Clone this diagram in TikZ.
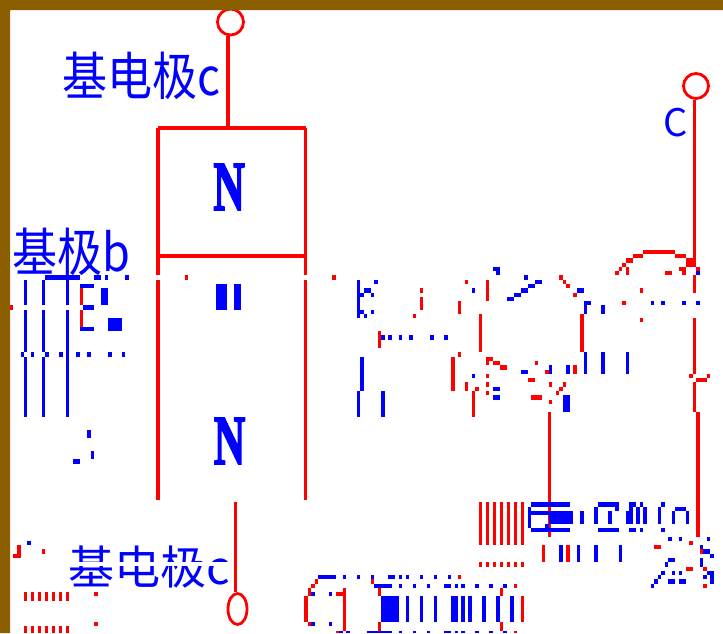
\documentclass[tikz,border=0pt]{standalone}
\usepackage{fontspec}
\usetikzlibrary{shapes.geometric}
\newfontfamily\cjk{Noto Sans CJK SC}
\newfontfamily\boldserif{Liberation Serif Bold}[FakeBold=3]
\definecolor{frame}{HTML}{8B5E00}
\definecolor{pxblue}{HTML}{0000FF}
\definecolor{pxred}{HTML}{FF0000}
\tikzset{
  bluepx/.style={fill=pxblue},
  redpx/.style={fill=pxred},
  wire/.style={draw=pxred,line width=3.2pt},
  terminal/.style={circle,draw=pxred,line width=2.8pt,inner sep=0pt,fill=none},
  lbl/.style={text=pxblue,inner sep=0pt,anchor=base west,font=\cjk\fontsize{45}{45}\selectfont},
  bigN/.style={text=pxblue,inner sep=0pt,font=\boldserif\fontsize{70}{70}\selectfont,xscale=0.62},
}
\newcommand\blu[1]{\foreach \a/\b/\c/\d in {#1}{\fill[bluepx] (\a,\b) rectangle (\c,\d);}}
\newcommand\rdd[1]{\foreach \a/\b/\c/\d in {#1}{\fill[redpx] (\a,\b) rectangle (\c,\d);}}
\begin{document}
\begin{tikzpicture}[x=1pt,y=-1pt]
\useasboundingbox (0,0) rectangle (723,633);
% labels
\node[lbl,yscale=1.15] (lc) at (62,95) {基电极c};
\node[lbl,yscale=1.15] (lb) at (12,271) {基极b};
\node[lbl,font=\cjk\fontsize{38}{38}\selectfont] (lC) at (663,136) {C};
\begin{scope}
\clip (60,545) rectangle (232,587);
\node[lbl,font=\cjk\fontsize{46}{46}\selectfont] (le) at (68,584) {基电极c};
\fill[white] (60,562) rectangle (232,566);
\end{scope}
% big letters
\node[bigN] (n1) at (229,187) {N};
\node[bigN] (n2) at (229.5,441) {N};
% terminals
\node[terminal,minimum size=26pt] (t1) at (230.5,22) {};
\node[terminal,minimum size=25pt] (t2) at (696,86) {};
\node[terminal,ellipse,minimum width=19pt,minimum height=31pt] (t3) at (237.5,609) {};
% named joints
\coordinate (boxT) at (228,128);
\coordinate (jog) at (228,37.5);
\coordinate (tl) at (158,128);
\coordinate (tr) at (305.5,128);
\coordinate (ml) at (158,256);
\coordinate (mr) at (305.5,256);
\coordinate (ll1) at (158,275);
\coordinate (ll2) at (158,280);
\coordinate (ll3) at (158,500);
\coordinate (rl1) at (305.5,275);
\coordinate (rl2) at (305.5,280);
\coordinate (rl3) at (305.5,500);
\coordinate (e1) at (235.5,502);
\coordinate (c1) at (694.5,258);
\coordinate (c2) at (694.5,275);
\coordinate (c3) at (694.5,293);
\coordinate (c4) at (694.5,318);
\coordinate (c5) at (694.5,374);
\coordinate (c6) at (694.5,382);
\coordinate (c7) at (694.5,412);
\coordinate (c8) at (698,412);
\coordinate (c9) at (698,537);
\coordinate (b1) at (549.5,412);
\coordinate (b2) at (549.5,537);
% connectors
\draw[wire] (t1.south -| jog) -- (boxT);
\draw[wire] (tl) -- (tr);
\draw[wire] (tl) -- (ll1) (ll2) -- (ll3);
\draw[wire] (tr) -- (rl1) (rl2) -- (rl3);
\draw[wire] (ml) -- (mr);
\draw[wire] (e1) -- (t3.north -| e1);
\draw[wire,line width=3pt] (t2.south -| c1) -- (c1) (c2) -- (c3) (c4) -- (c5) (c6) -- (c7);
\draw[wire,line width=4pt] (c8) -- (c9);
\draw[wire,line width=3pt] (b1) -- (b2);
\fill[frame] (0,0) rectangle (723,10) (0,0) rectangle (10,633);
% fragments, zoom (0,220)
\begin{scope}[shift={(0,220)},x=0.33333pt,y=-0.33333pt]
\blu{72/180/81/255,126/180/135/255,198/180/207/255,72/270/81/396,126/270/135/396,198/270/207/590,72/411/81/590,126/411/135/590,63/396/72/411,93/396/102/411,135/396/147/411,177/396/189/411,228/396/240/411,261/396/273/411,324/396/336/411,366/396/375/411,240/192/282/204,249/255/282/270,240/321/282/333,303/204/324/255,324/294/366/333,261/630/273/654,273/693/282/717,219/717/240/732,648/192/681/270,702/192/723/270,135/165/240/180,282/165/303/180,315/165/324/180,375/165/387/180}
\rdd{240/204/249/255,240/270/249/321,30/255/39/270,555/165/564/180}
\end{scope}
% fragments, zoom (330,240)
\begin{scope}[shift={(330,240)},x=0.33333pt,y=-0.33333pt]
\blu{81/120/90/234,132/120/144/132,102/144/123/159,90/159/102/171,123/159/132/171,90/210/102/222,123/210/132/222,102/222/111/234,153/285/165/300,174/285/186/300,207/285/216/300,237/285/249/300,300/285/312/300,342/285/354/300,426/144/435/159,489/81/510/93,498/93/510/105,582/105/594/120,615/120/636/132,594/132/615/144,573/144/594/159,552/159/573/171,531/171/552/183,741/144/762/159,762/183/783/195,762/195/771/222,813/195/825/222,963/183/972/195,993/183/1005/195,1056/183/1068/195,1098/183/1110/195,1098/93/1110/105,90/351/102/453,81/453/90/531,153/453/165/531,426/402/435/414,489/441/510/453,489/465/510/480,573/390/594/402,657/375/666/402,708/375/720/402,762/336/771/402,813/336/825/402,888/336/897/402,699/465/720/516}
\rdd{6/105/18/120,144/273/153/324,270/144/279/159,270/171/279/210,249/222/258/234,405/120/414/132,384/183/393/222,468/120/477/183,447/222/456/336,687/105/699/120,699/120/708/132,708/132/720/144,729/159/741/171,750/222/762/336,930/144/939/159,876/183/888/195,930/234/939/246,855/93/867/105,867/81/876/93,876/69/888/81,888/54/909/69,909/42/939/54,939/30/1035/42,1035/42/1068/54,1068/54/1098/81,888/81/897/105,1005/93/1026/105,1047/81/1068/93,1056/93/1068/105,1098/81/1110/93,1077/402/1089/414,1098/414/1131/426,1131/402/1140/414,384/336/393/351,363/351/375/453,405/426/414/453,426/453/435/531,435/441/447/453,468/351/489/363,468/363/477/375,489/363/510/375,510/375/531/390,468/402/477/414,468/426/477/441,468/453/477/465,615/363/624/375,645/390/657/402,729/375/741/402,594/414/615/426,657/426/666/441,699/426/708/441,687/441/699/453,678/453/687/465,603/465/636/480,657/480/666/492}
\end{scope}
% fragments, zoom (460,490)
\begin{scope}[shift={(460,490)},x=0.33333pt,y=-0.33333pt]
\rdd{57/36/66/165,78/36/87/165,99/36/108/165,120/36/129/165,141/36/150/165,162/36/171/165,183/36/192/165,57/216/66/231,78/216/87/231,99/216/108/231,120/216/129/231,141/216/150/231,162/216/171/231,183/216/192/231,246/165/255/216,318/165/330/216,687/153/699/165,582/165/603/177,720/177/729/192,678/231/699/243,729/231/741/243,729/282/741/294}
\blu{213/36/330/51,204/51/213/114,213/63/267/75,267/63/339/102,255/102/267/114,213/114/330/126,360/63/372/102,402/51/414/102,414/36/477/51,465/51/477/63,444/63/456/102,414/114/477/126,507/36/528/51,540/36/549/51,507/51/519/102,498/63/507/102,528/51/540/102,549/51/561/102,507/114/528/126,540/114/549/126,603/36/615/51,594/51/603/102,603/114/615/126,636/63/645/102,645/51/678/63,678/63/687/102,297/165/309/216,351/165/360/216,402/165/414/216,477/165/486/216,624/141/636/153,657/141/666/153,741/141/750/153,720/165/729/177,729/177/750/192,750/192/762/204,720/204/729/231,624/204/645/216,615/216/624/231,741/243/762/255,750/255/762/282,729/255/741/267,603/243/615/255,636/243/645/255,657/243/666/255,594/255/603/267,582/267/594/282,573/282/582/294,624/267/645/282,657/267/678/282}
\end{scope}
% fragments, zoom (290,560)
\begin{scope}[shift={(290,560)},x=0.33333pt,y=-0.33333pt]
\blu{84/45/138/57,159/45/168/57,201/45/210/57,243/45/252/57,294/45/315/57,327/45/336/57,348/45/357/57,390/45/399/57,432/45/441/57,474/45/483/57,252/72/306/84,327/72/336/84,369/72/378/84,411/72/420/84,462/72/483/84,495/72/504/84,513/72/525/84,555/72/567/84,597/72/609/84,639/72/651/84,63/96/75/108,117/96/126/108,273/108/327/186,348/108/357/186,390/108/399/186,432/108/441/186,483/108/504/186,513/108/525/186,534/108/546/186,576/108/588/186,618/108/630/186,660/108/672/186,63/186/75/198,117/186/126/198,147/213/159/219,168/213/180/219,231/213/306/219,327/213/336/219,369/213/378/219,411/213/420/219,462/213/483/219,495/213/504/219,513/213/525/219,555/213/567/219,597/213/609/219,639/213/651/219}
\rdd{504/45/513/57,75/57/84/72,63/72/75/84,54/84/63/108,243/57/252/72,672/72/681/84,264/84/273/108,630/84/639/108,159/84/168/213,138/96/159/108,42/108/54/186,693/108/702/186,54/186/63/198,264/186/273/213,630/186/639/213,138/213/147/219,672/213/681/219}
\end{scope}
% fragments, zoom (0,530)
\begin{scope}[shift={(0,530)},x=0.33333pt,y=-0.33333pt]
\blu{81/33/93/45}
\rdd{51/45/63/72,39/72/63/84,126/57/135/72,72/186/81/213,93/186/102/213,114/186/123/213,135/186/144/213,156/186/165/213,177/186/186/213,198/186/207/213,72/288/81/309,93/288/102/309,114/288/123/309,135/288/144/309,156/288/165/309,177/288/186/309,198/288/207/309,282/186/294/198,282/276/294/288}
\end{scope}
\end{tikzpicture}
\end{document}
